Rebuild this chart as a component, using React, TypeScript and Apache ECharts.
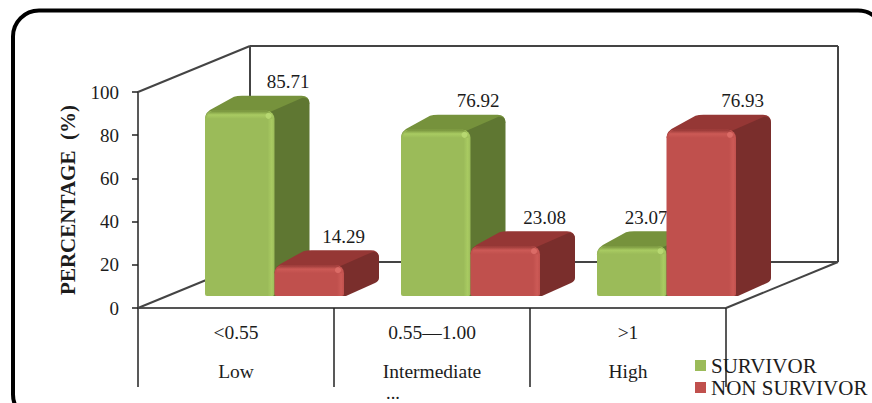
import React, { useEffect, useRef } from "react";
import * as echarts from "echarts";

const categories = ["<0.55\nLow", "0.55—1.00\nIntermediate", ">1\nHigh"];
const survivor = [85.71, 76.92, 23.07];
const nonSurvivor = [14.29, 23.08, 76.93];
const yTicks = { min: 0, max: 100, interval: 20 };
const survivorName = "SURVIVOR";
const nonSurvivorName = "NON SURVIVOR";
const yTitle = "PERCENTAGE  (%)";
const wrappedLabelTail = "...";

// Pseudo-3D layout, in pixels
const WALL_DX = 112;
const WALL_DY = 46;
const BAR_WIDTH = 69.5;
const BAR_DX = 35;
const BAR_DY = 15;
const BAR_LIFT = 12;
const FONT = '"Liberation Serif", "Times New Roman", serif';
const INK = "#1c1c1c";

type Palette = { front: string; edge: string; glint: string; top: string; side: string };
const GREEN: Palette = { front: "#9BBB59", edge: "#A9CB62", glint: "#BBDC76", top: "#76923C", side: "#5F7732" };
const RED: Palette = { front: "#C0504D", edge: "#CC5A56", glint: "#E0716C", top: "#953735", side: "#7A2E2C" };

// Value label offsets from the left edge of a bar's front face
const survivorLabelDx = [83, 77, 49];
const nonSurvivorLabelDx = [69, 74, 76];

const barRenderer =
  (offset: number, palette: Palette, labelDx: number[]) => (params: any, api: any) => {
    const i = api.value(0);
    const v = api.value(1);
    const cx = api.coord([i, 0])[0];
    const x0 = cx + offset;
    const x1 = x0 + BAR_WIDTH;
    const yB = api.coord([i, 0])[1] - BAR_LIFT;
    const yT = api.coord([i, v])[1] - BAR_LIFT;
    const backY = yT - BAR_DY;
    const backR = x1 + BAR_DX;
    const topFace = `M${x0} ${yT + 8} Q${x0} ${yT + 1} ${x0 + 9} ${yT - 3} L${x0 + BAR_DX - 6} ${backY + 1}
      Q${x0 + BAR_DX - 3} ${backY} ${x0 + BAR_DX + 2} ${backY} L${backR - 8} ${backY}
      Q${backR} ${backY} ${backR} ${backY + 8} L${x1} ${yT + 8} Z`;
    const sideFace = `M${x1 - 4} ${yT + 1} L${backR - 7} ${backY + 2}
      Q${backR} ${backY + 1} ${backR} ${backY + 8}
      L${backR} ${yB - BAR_DY - 3} Q${backR} ${yB - BAR_DY} ${backR - 4} ${yB - BAR_DY + 2}
      L${x1 + 2} ${yB} L${x1 - 2} ${yB} Z`;
    return {
      type: "group",
      children: [
        { type: "path", shape: { pathData: topFace }, style: { fill: palette.top } },
        { type: "path", shape: { pathData: sideFace }, style: { fill: palette.side } },
        {
          type: "rect",
          shape: { x: x0, y: yT, width: BAR_WIDTH, height: yB - yT, r: [8, 8, 2, 2] },
          style: {
            fill: new echarts.graphic.LinearGradient(0, 0, 1, 0, [
              { offset: 0, color: palette.front },
              { offset: 0.9, color: palette.front },
              { offset: 0.96, color: palette.edge },
              { offset: 1, color: palette.front },
            ]),
          },
        },
        {
          type: "rect",
          shape: { x: x0 + 2, y: yT, width: BAR_WIDTH - 4, height: 8, r: [7, 7, 0, 0] },
          style: {
            fill: new echarts.graphic.LinearGradient(0, 0, 0, 1, [
              { offset: 0, color: palette.top },
              { offset: 0.5, color: palette.edge },
              { offset: 1, color: palette.front },
            ]),
          },
        },
        { type: "circle", shape: { cx: x1 - 6, cy: yT + 5, r: 3 }, style: { fill: palette.glint, opacity: 0.8 } },
        {
          type: "text",
          style: {
            text: v.toFixed(2),
            x: x0 + labelDx[i],
            y: yT - 29,
            font: `19px ${FONT}`,
            fill: INK,
            align: "center",
            verticalAlign: "middle",
          },
        },
      ],
    };
  };

// Side wall, back wall and floor, derived from the plot rectangle
const frameRenderer = (params: any) => {
  const { x, y, width, height } = params.coordSys;
  const seg = (x1: number, y1: number, x2: number, y2: number) => ({
    type: "line",
    shape: { x1, y1, x2, y2 },
    style: { stroke: "#444", lineWidth: 2 },
  });
  const bottom = y + height;
  const right = x + width;
  return {
    type: "group",
    children: [
      seg(x, y, x + WALL_DX, y - WALL_DY),
      seg(x + WALL_DX, y - WALL_DY, right + WALL_DX, y - WALL_DY),
      seg(x + WALL_DX, y - WALL_DY, x + WALL_DX, bottom - WALL_DY),
      seg(right + WALL_DX, y - WALL_DY, right + WALL_DX, bottom - WALL_DY),
      seg(x, bottom, x + WALL_DX, bottom - WALL_DY),
      seg(x + WALL_DX, bottom - WALL_DY, right + WALL_DX, bottom - WALL_DY),
      seg(right, bottom, right + WALL_DX, bottom - WALL_DY),
    ],
  };
};

const zipped = (values: number[]) => values.map((v, i) => [i, v]);

export default function App() {
  const ref = useRef<HTMLDivElement>(null);
  useEffect(() => {
    const chart = echarts.init(ref.current!, null, { renderer: "svg" });
    chart.setOption({
      animation: false,
      backgroundColor: "#fff",
      grid: { left: 138, top: 92, width: 588, height: 216 },
      textStyle: { fontFamily: FONT },
      xAxis: {
        type: "category",
        data: categories,
        axisLine: { lineStyle: { color: "#555", width: 2 } },
        axisTick: { show: true, length: 79, alignWithLabel: false, lineStyle: { color: "#222", width: 1.5 } },
        axisLabel: { interval: 0, margin: 5, fontSize: 19.5, lineHeight: 39, color: INK, fontFamily: FONT, hideOverlap: false },
        splitLine: { show: false },
      },
      yAxis: {
        type: "value",
        ...yTicks,
        name: yTitle,
        nameLocation: "middle",
        nameGap: 60,
        nameTextStyle: { fontFamily: FONT, fontSize: 21, fontWeight: "bold", color: INK },
        axisLine: { show: true, lineStyle: { color: "#222", width: 1.5 } },
        axisTick: { show: true, length: 6, lineStyle: { color: "#222", width: 1.5 } },
        axisLabel: { margin: 19, fontSize: 19, color: INK, fontFamily: FONT },
        splitLine: { show: false },
      },
      legend: {
        orient: "vertical",
        left: 695,
        top: 355,
        itemWidth: 11,
        itemHeight: 11,
        itemGap: 1,
        padding: 0,
        icon: "rect",
        data: [survivorName, nonSurvivorName],
        textStyle: { fontFamily: FONT, fontSize: 21, color: INK },
      },
      graphic: [
        {
          type: "rect",
          z: -1,
          shape: { x: 13, y: 10.5, width: 871, height: 410, r: 26 },
          style: { fill: "none", stroke: "#000", lineWidth: 4 },
        },
        {
          type: "text",
          x: 393,
          y: 402,
          style: { text: wrappedLabelTail, font: `18.5px ${FONT}`, fill: INK, align: "center", verticalAlign: "bottom" },
        },
      ],
      series: [
        {
          type: "custom",
          name: "frame",
          silent: true,
          clip: false,
          renderItem: frameRenderer,
          data: [[0, 0]],
          encode: { x: 0, y: 1 },
        },
        {
          type: "custom",
          name: survivorName,
          clip: false,
          silent: true,
          itemStyle: { color: GREEN.front },
          renderItem: barRenderer(-31, GREEN, survivorLabelDx),
          data: zipped(survivor),
          encode: { x: 0, y: 1 },
        },
        {
          type: "custom",
          name: nonSurvivorName,
          clip: false,
          silent: true,
          itemStyle: { color: RED.front },
          renderItem: barRenderer(38.5, RED, nonSurvivorLabelDx),
          data: zipped(nonSurvivor),
          encode: { x: 0, y: 1 },
        },
      ],
    });
    return () => chart.dispose();
  }, []);
  return <div ref={ref} style={{ position: "fixed", left: 0, top: 0, width: 872, height: 403 }} />;
}
